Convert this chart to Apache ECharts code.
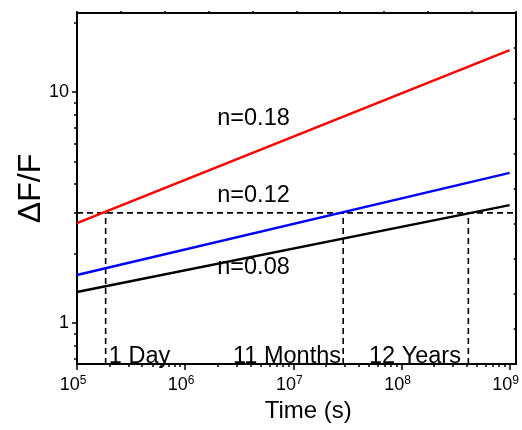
<!DOCTYPE html>
<html>
<head>
<meta charset="utf-8">
<script src="https://cdn.jsdelivr.net/npm/echarts@6/dist/echarts.min.js"></script>
<style>
html,body{margin:0;padding:0;background:#fff;}
#chart{width:522px;height:430px;}
</style>
</head>
<body>
<div id="chart"></div>
<script>
// ---- data ----
const timeRange = [1e5, 1e9];          // x extent of the model lines (s)
const redN018 = [2.71, 15.2];          // ΔF/F at timeRange ends, n=0.18
const blueN012 = [1.614, 4.47];        // n=0.12
const blackN008 = [1.362, 3.24];       // n=0.08
const thresholdY = 3;                  // horizontal dashed level
const markTimes = [1.84e5, 2.89e7, 4.15e8];
const markLabels = ['1 Day', '11 Months', '12 Years'];
const seriesLabels = ['n=0.18', 'n=0.12', 'n=0.08'];
const xMajorTicks = [1e5, 1e6, 1e7, 1e8, 1e9];
const yMajorTicks = [1, 10];
const xMin = 1e5, xMax = 1.135e9;
const yMin = 0.665, yMax = 22;

const xMinorTicks = [];
for (let d = 5; d <= 8; d++) for (let m = 2; m <= 9; m++) xMinorTicks.push(m * Math.pow(10, d));
const yMinorTicks = [0.7, 0.8, 0.9, 2, 3, 4, 5, 6, 7, 8, 9, 20];

const FONT = 'Liberation Sans, Arial, sans-serif';
const chart = echarts.init(document.getElementById('chart'), null, {renderer: 'canvas'});

function expLabel(v) {
  const e = Math.round(Math.log10(v));
  return '{b|10}{s|' + e + '}';
}

const lineCommon = {type: 'line', showSymbol: false, symbol: 'none', animation: false, silent: true};
const dashStyle = {color: '#000', width: 1.6, type: [6, 4]};

const series = [];
markTimes.forEach(t => {
  series.push(Object.assign({}, lineCommon, {
    data: [[t, yMin], [t, thresholdY]], lineStyle: dashStyle, z: 1
  }));
});
series.push(Object.assign({}, lineCommon, {
  data: [[xMin, thresholdY], [xMax, thresholdY]], lineStyle: dashStyle, z: 1
}));
[[redN018, '#ff0000'], [blueN012, '#0000ff'], [blackN008, '#000000']].forEach(([vals, c]) => {
  series.push(Object.assign({}, lineCommon, {
    data: [[timeRange[0], vals[0]], [timeRange[1], vals[1]]],
    lineStyle: {color: c, width: 2.5}, z: 3
  }));
});

const textStyle = {fontFamily: FONT, fontSize: 23.5, fill: '#000'};
const gtexts = [
  [seriesLabels[0], 253.5, 119],
  [seriesLabels[1], 253.5, 196],
  [seriesLabels[2], 253.5, 268],
  [markLabels[0], 139.5, 357],
  [markLabels[1], 287, 357],
  [markLabels[2], 415, 357]
].map(([t, x, y]) => ({
  type: 'text', x: x, y: y,
  style: Object.assign({text: t, align: 'center', verticalAlign: 'middle'}, textStyle),
  z: 10
}));

const axisLineStyle = {color: '#000', width: 2};

chart.setOption({
  backgroundColor: '#fff',
  animation: false,
  grid: {left: 77, right: 2, top: 13, bottom: 66, containLabel: false},
  xAxis: [
    {
      type: 'log', logBase: 10, min: xMin, max: xMax, position: 'bottom',
      name: 'Time (s)', nameLocation: 'middle', nameGap: 35, nameMoveOverlap: false,
      nameTextStyle: {fontFamily: FONT, fontSize: 24, color: '#000', padding: [0, 0, 0, 24]},
      axisLine: {show: true, lineStyle: axisLineStyle},
      axisTick: {show: true, inside: false, length: 6, lineStyle: {color: '#000', width: 1.5}, customValues: xMajorTicks},
      axisLabel: {
        show: true, margin: 11, customValues: xMajorTicks, formatter: v => expLabel(v),
        padding: [0, 8, 0, 0],
        rich: {
          b: {fontFamily: FONT, fontSize: 18, color: '#000', lineHeight: 20},
          s: {fontFamily: FONT, fontSize: 12, color: '#000', verticalAlign: 'top', lineHeight: 12}
        }
      },
      splitLine: {show: false}, minorTick: {show: false}
    },
    {
      type: 'log', logBase: 10, min: xMin, max: xMax, position: 'bottom',
      axisLine: {show: false},
      axisTick: {show: true, inside: false, length: 3, lineStyle: {color: '#000', width: 1.5}, customValues: xMinorTicks},
      axisLabel: {show: false}, splitLine: {show: false}
    },
    {
      type: 'value', min: 0, max: 10, interval: 1, position: 'top',
      axisLine: {show: true, lineStyle: axisLineStyle},
      axisTick: {show: true, inside: false, length: 2, lineStyle: {color: '#000', width: 1.5}},
      axisLabel: {show: false}, splitLine: {show: false}
    }
  ],
  yAxis: [
    {
      type: 'log', logBase: 10, min: yMin, max: yMax, position: 'left',
      name: 'ΔF/F', nameLocation: 'middle', nameGap: 30, nameRotate: 90, nameMoveOverlap: false,
      nameTextStyle: {fontFamily: FONT, fontSize: 32, color: '#000'},
      axisLine: {show: true, lineStyle: axisLineStyle},
      axisTick: {show: true, inside: false, length: 5, lineStyle: {color: '#000', width: 1.5}, customValues: yMajorTicks},
      axisLabel: {show: true, margin: 8, customValues: yMajorTicks, fontFamily: FONT, fontSize: 18, color: '#000', formatter: v => String(Math.round(v))},
      splitLine: {show: false}
    },
    {
      type: 'log', logBase: 10, min: yMin, max: yMax, position: 'left',
      axisLine: {show: false},
      axisTick: {show: true, inside: false, length: 3, lineStyle: {color: '#000', width: 1.5}, customValues: yMinorTicks},
      axisLabel: {show: false}, splitLine: {show: false}
    },
    {
      type: 'value', min: 0, max: 10, interval: 1, position: 'right',
      axisLine: {show: true, lineStyle: axisLineStyle},
      axisTick: {show: true, inside: true, length: 2, lineStyle: {color: '#000', width: 1.5}},
      axisLabel: {show: false}, splitLine: {show: false}
    }
  ],
  series: series,
  graphic: gtexts
});
</script>
</body>
</html>
